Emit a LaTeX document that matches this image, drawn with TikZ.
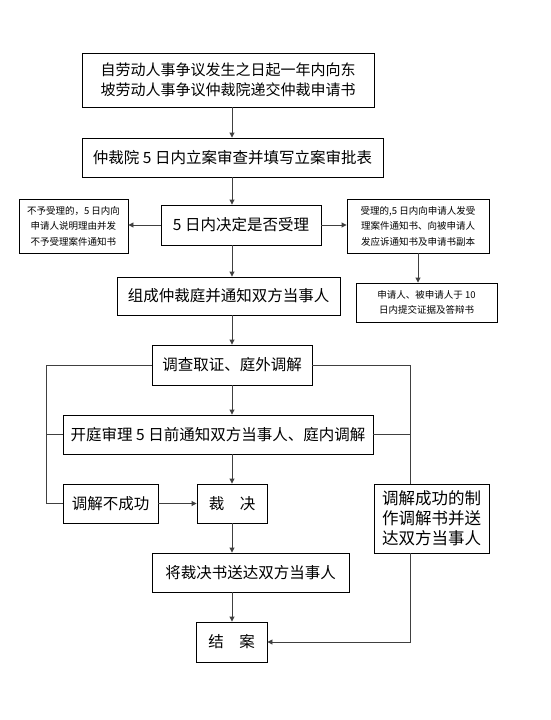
\documentclass[tikz,border=0pt]{standalone}
\usepackage{fontspec}
\newfontfamily\cjk{Noto Sans CJK SC}
\usetikzlibrary{arrows.meta}
\begin{document}
\begin{tikzpicture}[x=1pt,y=-1pt,
  box/.style={draw=black, line width=0.9pt, inner sep=0pt, align=center,
    font=\cjk\fontsize{15.5}{20}\selectfont},
  sbox/.style={box, font=\cjk\fontsize{9.5}{15.5}\selectfont},
  conn/.style={draw=black!75, line width=0.9pt},
  arr/.style={conn, -{Triangle[length=5pt,width=5pt]}}]
\useasboundingbox[fill=white] (0,0) rectangle (550,720);
\coordinate (spine) at (232,0);
\coordinate (leftx) at (46,0);
\coordinate (rightx) at (410,0);

\node[box, minimum width=292pt, minimum height=54pt, font=\cjk\fontsize{15}{20}\selectfont] (b1) at (228,80)
  {自劳动人事争议发生之日起一年内向东\\坡劳动人事争议仲裁院递交仲裁申请书};
\node[box, minimum width=301pt, minimum height=39pt] (b2) at (232.5,157.5)
  {仲裁院 5 日内立案审查并填写立案审批表};
\node[box, minimum width=160pt, minimum height=40pt] (b3) at (241,225)
  {5 日内决定是否受理};
\node[sbox, minimum width=109pt, minimum height=54pt] (ls) at (73.5,226)
  {不予受理的，5 日内向\\申请人说明理由并发\\不予受理案件通知书};
\node[sbox, minimum width=142pt, minimum height=54pt] (rs) at (418,226)
  {受理的,5 日内向申请人发受\\理案件通知书、向被申请人\\发应诉通知书及申请书副本};
\node[box, minimum width=223pt, minimum height=38pt] (b4) at (228.5,296)
  {组成仲裁庭并通知双方当事人};
\node[sbox, minimum width=141pt, minimum height=39pt] (rs2) at (426.5,302.5)
  {申请人、被申请人于 10\\日内提交证据及答辩书};
\node[box, minimum width=160pt, minimum height=40pt] (b5) at (232,365)
  {调查取证、庭外调解};
\node[box, minimum width=310pt, minimum height=39pt] (b6) at (218,434.5)
  {开庭审理 5 日前通知双方当事人、庭内调解};
\node[box, minimum width=95pt, minimum height=39pt] (fail) at (110.5,503.5)
  {调解不成功};
\node[box, minimum width=70pt, minimum height=39pt] (verdict) at (232,503.5)
  {裁\quad 决};
\node[box, minimum width=115pt, minimum height=69pt, font=\cjk\fontsize{16.5}{20}\selectfont] (succ) at (431.5,518.5)
  {调解成功的制\\作调解书并送\\达双方当事人};
\node[box, minimum width=197pt, minimum height=39pt] (deliver) at (250.5,572.5)
  {将裁决书送达双方当事人};
\node[box, minimum width=71pt, minimum height=40pt] (end) at (231.5,642)
  {结\quad 案};

% main spine
\draw[arr] (b1.south -| spine) -- (b2.north -| spine);
\draw[arr] (b2.south -| spine) -- (b3.north -| spine);
\draw[arr] (b3.south -| spine) -- (b4.north -| spine);
\draw[arr] (b4.south -| spine) -- (b5.north -| spine);
\draw[arr] (b5.south -| spine) -- (b6.north -| spine);
\draw[arr] (b6.south -| spine) -- (verdict.north -| spine);
\draw[arr] (verdict.south -| spine) -- (deliver.north -| spine);
\draw[arr] (deliver.south -| spine) -- (end.north -| spine);

% side branches
\draw[arr] (b3.west) -- (ls.east |- b3.west);
\draw[arr] (b3.east) -- (rs.west |- b3.east);
\draw[arr] (rs.south) -- (rs2.north -| rs.south);
\draw[arr] (fail.east) -- (verdict.west);

% left loop
\draw[conn] (b5.west) -- (b5.west -| leftx) -- (fail.west -| leftx) -- (fail.west);
\draw[conn] (b6.west) -- (b6.west -| leftx);

% right loop
\draw[conn] (b5.east) -- (b5.east -| rightx) -- (succ.north -| rightx);
\draw[conn] (b6.east) -- (b6.east -| rightx);
\draw[arr] (succ.south -| rightx) -- (rightx |- end.east) -- (end.east);
\end{tikzpicture}
\end{document}
